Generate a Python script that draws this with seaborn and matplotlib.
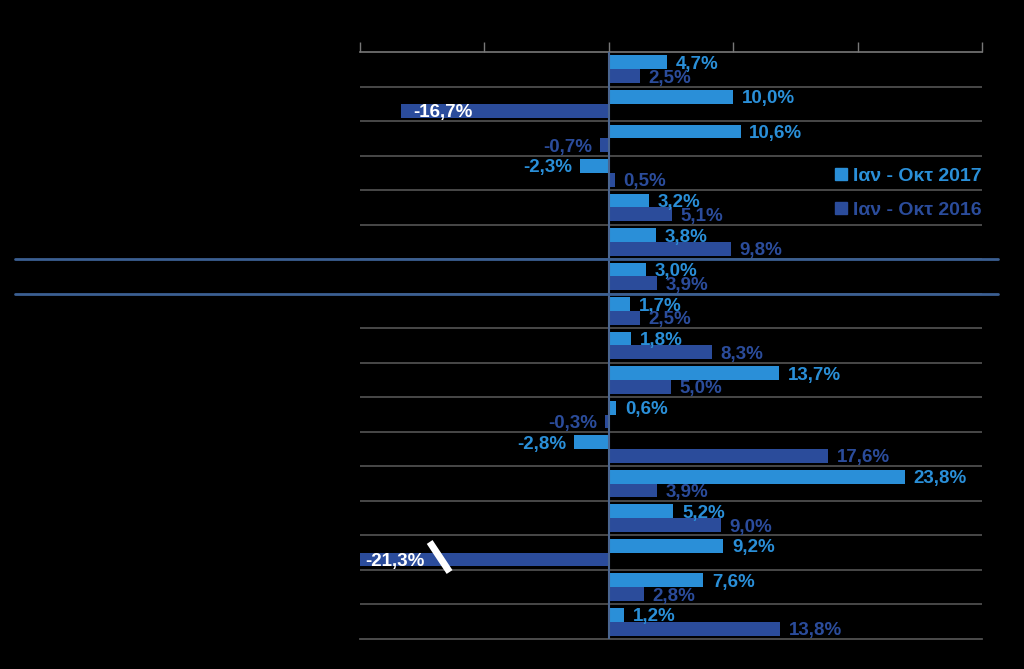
import matplotlib
matplotlib.use("Agg")
import matplotlib.pyplot as plt
import matplotlib.transforms as mtransforms
from matplotlib.lines import Line2D
import seaborn as sns
import pandas as pd

categories = [f"C{i+1}" for i in range(17)]
series_names = ["Ιαν - Οκτ 2017", "Ιαν - Οκτ 2016"]
values_2017 = [4.7, 10.0, 10.6, -2.3, 3.2, 3.8, 3.0, 1.7, 1.8, 13.7, 0.6, -2.8, 23.8, 5.2, 9.2, 7.6, 1.2]
values_2016 = [2.5, -16.7, -0.7, 0.5, 5.1, 9.8, 3.9, 2.5, 8.3, 5.0, -0.3, 17.6, 3.9, 9.0, -21.3, 2.8, 13.8]
x_ticks = [-20, -10, 0, 10, 20, 30]
highlight_row = 6
break_row = 14

c17 = "#2a8fd8"
c16 = "#2b4c9b"
palette = {series_names[0]: c17, series_names[1]: c16}

df = pd.DataFrame({
    "cat": categories * 2,
    "series": [series_names[0]] * 17 + [series_names[1]] * 17,
    "val": values_2017 + values_2016,
})

sns.set_theme(style="white")
plt.rcParams["font.family"] = ["Liberation Sans", "DejaVu Sans"]

fig = plt.figure(figsize=(10.24, 6.69), dpi=100, facecolor="black")
ax = fig.add_axes([360 / 1024, 1 - 639 / 669, 622 / 1024, 587 / 669])
ax.set_facecolor("black")

sns.barplot(data=df, y="cat", x="val", hue="series", order=categories,
            hue_order=series_names, palette=palette, orient="h",
            width=0.8, saturation=1, ax=ax, legend=False, linewidth=0)

ax.set_xlim(x_ticks[0], x_ticks[-1])
ax.set_ylim(16.5, -0.5)
ax.set_xticks(x_ticks)
ax.set_xticklabels([])
ax.set_yticks([])
ax.set_xlabel("")
ax.set_ylabel("")
ax.xaxis.tick_top()
ax.tick_params(axis="x", which="major", direction="out", length=7, width=1,
               color="#777777", top=True, bottom=False)

for s in ["left", "right"]:
    ax.spines[s].set_visible(False)
ax.spines["top"].set_color("#777777")
ax.spines["bottom"].set_color("#555555")
ax.spines["top"].set_linewidth(1.2)

for i in range(16):
    ax.axhline(i + 0.5, color="#555555", lw=1.2, zorder=0.5)

ax.axvline(0, color="#4a6590", lw=1.5, zorder=3)

# data labels
xmin = x_ticks[0]
fs = 13.5
for container, vals, col in zip(ax.containers, [values_2017, values_2016], [c17, c16]):
    for patch, v in zip(container.patches, vals):
        yc = patch.get_y() + patch.get_height() / 2
        txt = f"{v:.1f}%".replace(".", ",")
        if v < -10:
            xpos = max(v + 1.0, xmin + 0.4)
            ax.text(xpos, yc, txt, color="white", fontsize=fs, fontweight="bold",
                    ha="left", va="center_baseline", zorder=5)
        elif v < 0:
            ax.text(v - 0.6, yc, txt, color=col, fontsize=fs, fontweight="bold",
                    ha="right", va="center_baseline", zorder=4)
        else:
            ax.text(v + 0.7, yc, txt, color=col, fontsize=fs, fontweight="bold",
                    ha="left", va="center_baseline", zorder=4)

# axis break marker on the clipped bar
ax.plot([-14.4, -12.8], [break_row - 0.31, break_row + 0.56], color="white",
        lw=5, solid_capstyle="butt", zorder=6, clip_on=False)

# highlight lines spanning the figure
trans = mtransforms.blended_transform_factory(fig.transFigure, ax.transData)
for yv in [highlight_row - 0.5, highlight_row + 0.5]:
    ax.plot([15 / 1024, 998 / 1024], [yv, yv], color="#3b5f92", lw=2,
            transform=trans, clip_on=False, zorder=7)

handles = [Line2D([0], [0], marker="s", linestyle="none", markersize=8,
                  markerfacecolor=palette[n], markeredgecolor=palette[n])
           for n in series_names]
leg = ax.legend(handles, series_names, loc="center left",
                bbox_to_anchor=(812 / 1024, 1 - 193 / 669),
                bbox_transform=fig.transFigure, frameon=False,
                handletextpad=0.0, labelspacing=0.85, handlelength=1.2,
                prop={"size": 14, "weight": "bold"})
for t, n in zip(leg.get_texts(), series_names):
    t.set_color(palette[n])

fig.savefig("out.png", dpi=100, facecolor="black")
